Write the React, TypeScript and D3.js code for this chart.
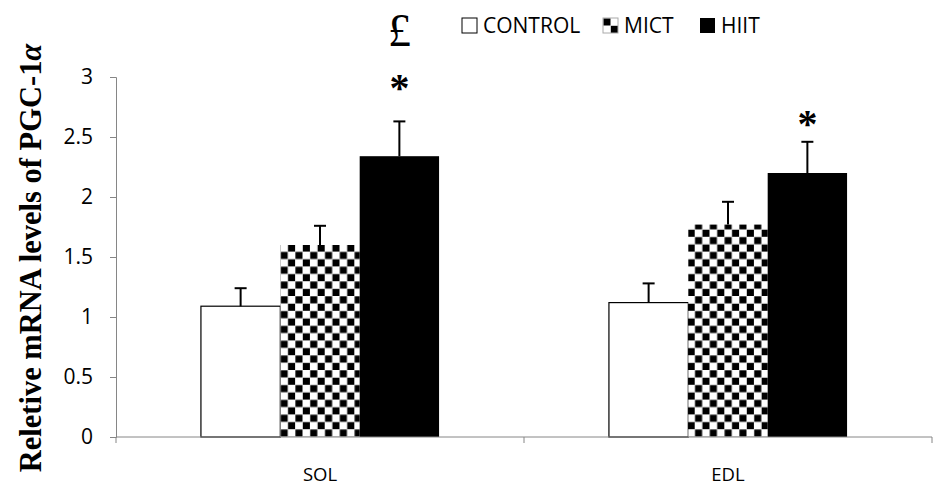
import { useEffect, useRef } from 'react';
import * as d3 from 'd3';

// categories (muscles) and groups (training)
const muscles = ['SOL', 'EDL'];
const groups = ['CONTROL', 'MICT', 'HIIT'];

// mean relative mRNA levels, one array per group, in muscle order
const controlValues = [1.09, 1.12];
const mictValues = [1.60, 1.77];
const hiitValues = [2.34, 2.20];

// top of the error bar (mean + SEM)
const controlErrTop = [1.24, 1.28];
const mictErrTop = [1.76, 1.96];
const hiitErrTop = [2.63, 2.46];

const yTicks = [0, 0.5, 1, 1.5, 2, 2.5, 3];

// significance marks: muscle, group, symbol, baseline level in data units
const sigMuscles = ['SOL', 'SOL', 'EDL'];
const sigGroups = ['HIIT', 'HIIT', 'HIIT'];
const sigSymbols = ['£', '*', '*'];
const sigLevels = [3.26, 2.80, 2.50];

type Bar = { muscle: string; group: string; value: number; errTop: number };

const App = () => {
  const svgRef = useRef<SVGSVGElement>(null);

  useEffect(() => {
    if (!svgRef.current) return;
    const width = 933;
    const height = 486;

    d3.select(svgRef.current).selectAll('*').remove();
    const svg = d3.select(svgRef.current)
      .attr('width', width)
      .attr('height', height);

    const margin = { top: 77, right: 1, bottom: 49, left: 116 };

    const bars: Bar[] = [];
    const valuesByGroup = [controlValues, mictValues, hiitValues];
    const errByGroup = [controlErrTop, mictErrTop, hiitErrTop];
    muscles.forEach((m, i) => {
      groups.forEach((g, j) => {
        bars.push({ muscle: m, group: g, value: valuesByGroup[j][i], errTop: errByGroup[j][i] });
      });
    });

    const x0 = d3.scaleBand()
      .domain(muscles)
      .range([margin.left, width - margin.right])
      .padding(0);

    const x1 = d3.scaleBand()
      .domain(groups)
      .range([0, x0.bandwidth()])
      .paddingInner(0)
      .paddingOuter(1.07);

    const y = d3.scaleLinear()
      .domain([0, 3])
      .range([height - margin.bottom, margin.top]);

    // checker pattern
    const defs = svg.append('defs');
    const cell = 7.4;
    const addChecker = (id: string, px: number, py: number, c: number) => {
      const pat = defs.append('pattern')
        .attr('id', id)
        .attr('patternUnits', 'userSpaceOnUse')
        .attr('width', c * 2)
        .attr('height', c * 2)
        .attr('x', px)
        .attr('y', py);
      pat.append('rect').attr('width', c * 2).attr('height', c * 2).attr('fill', '#fff');
      pat.append('rect').attr('x', 0.3).attr('y', 0.3).attr('width', c - 0.3).attr('height', c - 0.3).attr('fill', '#000');
      pat.append('rect').attr('x', c + 0.3).attr('y', c + 0.3).attr('width', c - 0.3).attr('height', c - 0.3).attr('fill', '#000');
    };
    addChecker('checker', x0('SOL')! + x1('MICT')!, 0, cell);

    const fills: Record<string, string> = { CONTROL: '#fff', MICT: 'url(#checker)', HIIT: '#000' };

    // y axis
    const yAxis = svg.append('g')
      .attr('transform', `translate(${margin.left},0)`)
      .call(d3.axisLeft(y).tickValues(yTicks).tickFormat(d => d3.format('')(d as number)).tickSize(6).tickPadding(17));
    yAxis.select('.domain').attr('stroke', '#868686');
    yAxis.selectAll('.tick line').attr('stroke', '#868686');
    yAxis.selectAll('.tick text')
      .attr('fill', '#000')
      .style('font-family', '"Open Sans", sans-serif')
      .style('font-size', '21px');

    // bars
    svg.append('g')
      .selectAll('rect')
      .data(bars)
      .enter()
      .append('rect')
      .attr('x', d => x0(d.muscle)! + x1(d.group)!)
      .attr('y', d => y(d.value))
      .attr('width', x1.bandwidth())
      .attr('height', d => y(0) - y(d.value))
      .attr('fill', d => fills[d.group])
      .attr('stroke', d => (d.group === 'CONTROL' ? '#000' : 'none'))
      .attr('stroke-width', 1.2);

    // error bars
    const eg = svg.append('g').attr('stroke', '#000').attr('stroke-width', 2);
    bars.forEach(d => {
      const cx = x0(d.muscle)! + x1(d.group)! + x1.bandwidth() / 2;
      eg.append('line')
        .attr('x1', cx).attr('x2', cx)
        .attr('y1', y(d.value)).attr('y2', y(d.errTop));
      eg.append('line')
        .attr('x1', cx - 6).attr('x2', cx + 6)
        .attr('y1', y(d.errTop)).attr('y2', y(d.errTop));
    });

    // x axis
    const xAxis = svg.append('g')
      .attr('transform', `translate(0,${y(0)})`);
    xAxis.append('line')
      .attr('x1', margin.left).attr('x2', width - margin.right)
      .attr('stroke', '#868686');
    const xTicks = [margin.left, ...muscles.map(m => x0(m)! + x0.bandwidth())];
    xAxis.selectAll('.xt')
      .data(xTicks)
      .enter()
      .append('line')
      .attr('x1', d => d).attr('x2', d => d)
      .attr('y1', 0).attr('y2', 6)
      .attr('stroke', '#868686');
    xAxis.selectAll('.xl')
      .data(muscles)
      .enter()
      .append('text')
      .attr('x', d => x0(d)! + x0.bandwidth() / 2)
      .attr('y', 44)
      .attr('text-anchor', 'middle')
      .style('font-family', '"Open Sans", sans-serif')
      .style('font-size', '18.5px')
      .text(d => d);

    // significance symbols
    sigSymbols.forEach((s, i) => {
      const cx = x0(sigMuscles[i])! + x1(sigGroups[i])! + x1.bandwidth() / 2;
      svg.append('text')
        .attr('x', cx)
        .attr('y', y(sigLevels[i]))
        .attr('text-anchor', 'middle')
        .style('font-family', '"Liberation Serif", "Times New Roman", serif')
        .style('font-size', s === '£' ? '46px' : '40px')
        .style('font-weight', s === '£' ? 'normal' : 'bold')
        .text(s);
    });

    // y axis title
    const yt = svg.append('text')
      .attr('transform', `translate(41,${(margin.top + y(0)) / 2 + 1}) rotate(-90)`)
      .attr('text-anchor', 'middle')
      .style('font-family', '"Liberation Serif", "Times New Roman", serif')
      .style('font-size', '30.5px')
      .style('font-weight', 'bold');
    yt.append('tspan').text('Reletive mRNA levels of PGC-1');
    yt.append('tspan').style('font-style', 'italic').text('α');

    // legend
    const legendX = [462, 603, 700];
    const legendY = 18;
    const box = 15;
    addChecker('checker-legend', legendX[1], legendY, box / 2);
    const legend = svg.append('g');
    groups.forEach((g, i) => {
      legend.append('rect')
        .attr('x', legendX[i])
        .attr('y', legendY)
        .attr('width', box)
        .attr('height', box)
        .attr('fill', g === 'MICT' ? 'url(#checker-legend)' : fills[g])
        .attr('stroke', g === 'CONTROL' ? '#000' : g === 'MICT' ? '#aaa' : 'none')
        .attr('stroke-width', 1);
      legend.append('text')
        .attr('x', legendX[i] + 21)
        .attr('y', 33)
        .style('font-family', '"Open Sans", sans-serif')
        .style('font-size', '21px')
        .text(g);
    });
  }, []);

  return (
    <div style={{ position: 'absolute', left: 0, top: 0, background: '#fff' }}>
      <svg ref={svgRef} style={{ display: 'block' }}></svg>
    </div>
  );
};

export default App;
